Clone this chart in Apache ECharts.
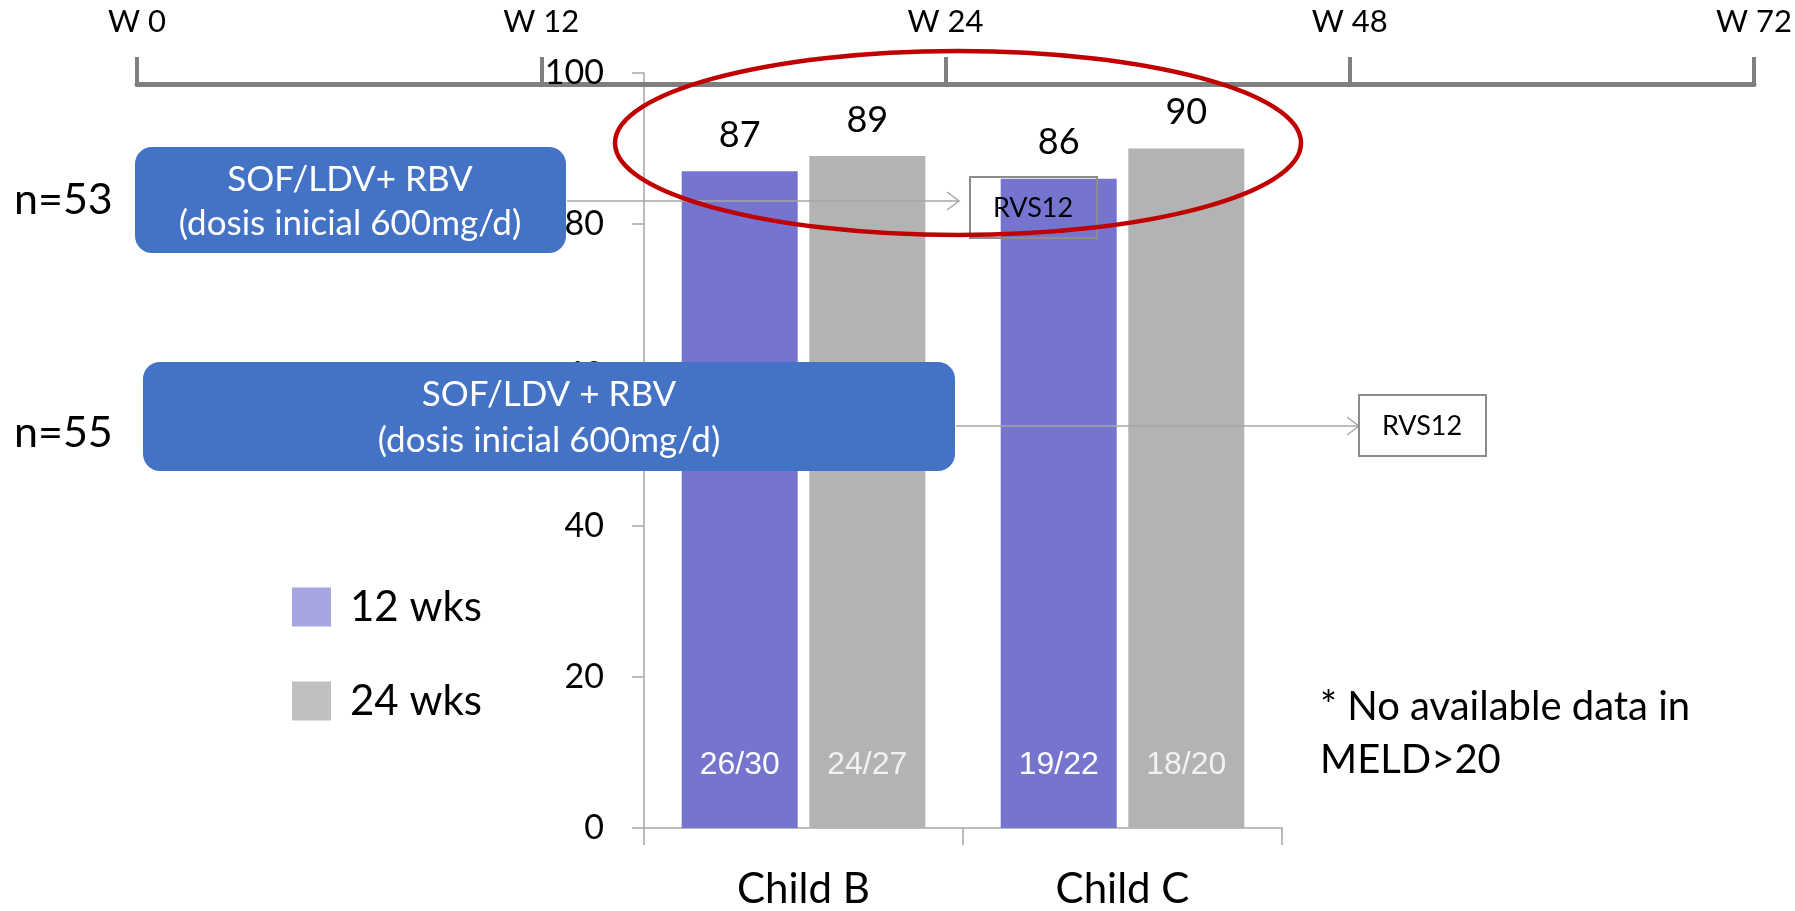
<!DOCTYPE html>
<html>
<head>
<meta charset="utf-8">
<script src="https://cdn.jsdelivr.net/npm/echarts@6/dist/echarts.min.js"></script>
<style>
html,body{margin:0;padding:0;background:#fff;}
#chart{width:1795px;height:911px;}
</style>
</head>
<body>
<div id="chart"></div>
<script>
// ---- data ----
const categories = ['Child B', 'Child C'];
const wks12 = [87, 86];
const wks24 = [89, 90];
const frac12 = ['26/30', '19/22'];
const frac24 = ['24/27', '18/20'];
const seriesNames = ['12 wks', '24 wks'];
const timelineLabels = ['W 0', 'W 12', 'W 24', 'W 48', 'W 72'];
const yMin = 0, yMax = 100, yInterval = 20;

const FONT = 'Lato, "Open Sans", sans-serif';
const ARIAL = '"Liberation Sans", Arial, sans-serif';
const C12 = '#7575CF', C24 = '#B3B3B3';
const AX = '#A6A6A6';

const chart = echarts.init(document.getElementById('chart'), null, {renderer: 'canvas'});

function txt(x, y, text, size, color, align, family) {
  return {type: 'text', x: x, y: y, z: 120,
    style: {text: text, fill: color || '#000', fontSize: size, fontFamily: family || FONT,
      align: align || 'center', verticalAlign: 'middle'}};
}

const option = {
  backgroundColor: '#fff',
  animation: false,
  grid: [
    {left: 644, right: 513, top: 73, bottom: 83},
    {left: 137, right: 38, top: 84, height: 20}
  ],
  legend: {
    data: [
      {name: seriesNames[0], itemStyle: {color: '#A5A5E0'}},
      {name: seriesNames[1], itemStyle: {color: '#BFBFBF'}}
    ],
    orient: 'vertical', left: 292, top: 586, padding: 0,
    itemWidth: 39, itemHeight: 39, itemGap: 52, icon: 'rect',
    textStyle: {fontSize: 42, fontFamily: FONT, color: '#000', padding: [0, 0, 0, 14]}
  },
  xAxis: [
    {gridIndex: 0, type: 'category', data: categories,
      axisLine: {lineStyle: {color: AX, width: 1.5}},
      axisTick: {show: true, length: 17, lineStyle: {color: AX, width: 1.5}},
      axisLabel: {fontSize: 42, fontFamily: FONT, color: '#000', margin: 40}},
    {gridIndex: 1, type: 'category', data: timelineLabels, boundaryGap: false, position: 'top',
      axisLine: {onZero: false, lineStyle: {color: '#7F7F7F', width: 5}},
      axisTick: {show: true, interval: 0, length: 27, lineStyle: {color: '#7F7F7F', width: 4}},
      axisLabel: {interval: 0, fontSize: 31, fontFamily: FONT, color: '#000', margin: 47}},
    {gridIndex: 0, type: 'category', data: categories, show: false}
  ],
  yAxis: [
    {gridIndex: 0, type: 'value', min: yMin, max: yMax, interval: yInterval,
      axisLine: {show: true, lineStyle: {color: AX, width: 1.5}},
      axisTick: {show: true, length: 12, lineStyle: {color: AX, width: 1.5}},
      splitLine: {show: false},
      axisLabel: {fontSize: 34, fontFamily: FONT, color: '#000', margin: 40}},
    {gridIndex: 1, type: 'value', show: false}
  ],
  series: [
    {name: seriesNames[0], type: 'bar', xAxisIndex: 0, yAxisIndex: 0, data: wks12,
      barWidth: 116, barGap: '10%', itemStyle: {color: C12},
      label: {show: true, position: 'top', distance: 18, fontSize: 36, fontFamily: FONT, color: '#000'}},
    {name: seriesNames[1], type: 'bar', xAxisIndex: 0, yAxisIndex: 0, data: wks24,
      barWidth: 116, barGap: '10%', itemStyle: {color: C24},
      label: {show: true, position: 'top', distance: 18, fontSize: 36, fontFamily: FONT, color: '#000'}},
    {type: 'bar', xAxisIndex: 2, yAxisIndex: 0, data: wks12, silent: true,
      barWidth: 116, barGap: '10%', itemStyle: {color: 'rgba(0,0,0,0)'},
      label: {show: true, position: 'insideBottom', distance: 47, fontSize: 32, fontFamily: ARIAL,
        color: '#fff', formatter: p => frac12[p.dataIndex]}},
    {type: 'bar', xAxisIndex: 2, yAxisIndex: 0, data: wks24, silent: true,
      barWidth: 116, barGap: '10%', itemStyle: {color: 'rgba(0,0,0,0)'},
      label: {show: true, position: 'insideBottom', distance: 47, fontSize: 32, fontFamily: ARIAL,
        color: '#F2F2F2', formatter: p => frac24[p.dataIndex]}}
  ],
  graphic: [
    // treatment boxes
    {type: 'rect', z: 100, shape: {x: 135, y: 147, width: 431, height: 106, r: 17},
      style: {fill: '#4472C4'}},
    txt(350, 180, 'SOF/LDV+ RBV', 35, '#fff'),
    txt(350, 224, '(dosis inicial 600mg/d)', 35, '#fff'),
    {type: 'rect', z: 100, shape: {x: 143, y: 362, width: 812, height: 109, r: 17},
      style: {fill: '#4472C4'}},
    txt(549, 395, 'SOF/LDV + RBV', 35, '#fff'),
    txt(549, 441, '(dosis inicial 600mg/d)', 35, '#fff'),
    // n labels
    txt(14, 200, 'n=53', 43, '#000', 'left'),
    txt(14, 433, 'n=55', 43, '#000', 'left'),
    // arrows
    {type: 'polyline', z: 100, shape: {points: [[567, 201], [959, 201]]}, style: {stroke: AX, lineWidth: 1.5, fill: null}},
    {type: 'polyline', z: 100, shape: {points: [[947, 192], [959, 201], [947, 210]]}, style: {stroke: AX, lineWidth: 1.5, fill: null}},
    {type: 'polyline', z: 100, shape: {points: [[956, 426], [1359, 426]]}, style: {stroke: AX, lineWidth: 1.5, fill: null}},
    {type: 'polyline', z: 100, shape: {points: [[1347, 417], [1359, 426], [1347, 435]]}, style: {stroke: AX, lineWidth: 1.5, fill: null}},
    // RVS12 boxes
    {type: 'rect', z: 100, shape: {x: 970, y: 177, width: 127, height: 61},
      style: {fill: 'rgba(0,0,0,0)', stroke: '#8C8C8C', lineWidth: 2}},
    txt(1033, 208, 'RVS12', 27),
    {type: 'rect', z: 100, shape: {x: 1359, y: 395, width: 127, height: 61},
      style: {fill: '#fff', stroke: '#8C8C8C', lineWidth: 2}},
    txt(1422, 426, 'RVS12', 27),
    // highlight ellipse
    {type: 'ellipse', z: 130, shape: {cx: 958, cy: 143, rx: 343, ry: 92},
      style: {fill: null, stroke: '#C00000', lineWidth: 4.5}},
    // footnote
    txt(1320, 707, '* No available data in', 40, '#000', 'left'),
    txt(1320, 760, 'MELD>20', 40, '#000', 'left')
  ]
};
chart.setOption(option);
</script>
</body>
</html>
